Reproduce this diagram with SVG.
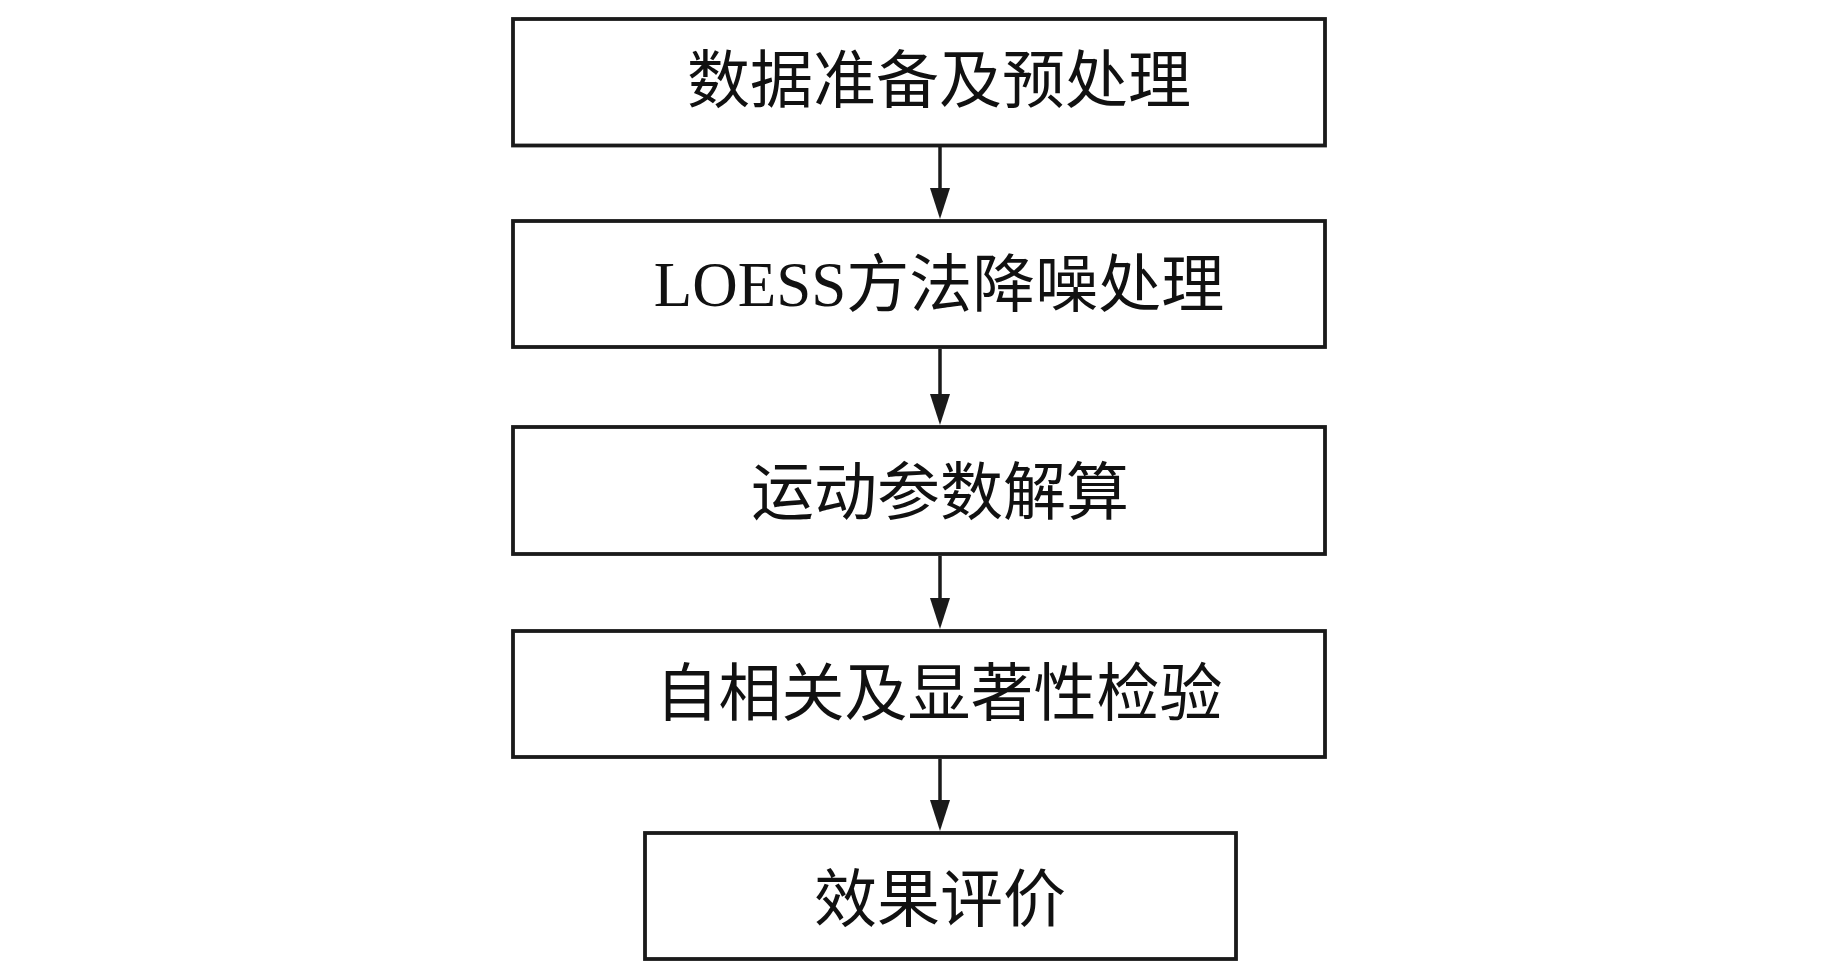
<svg xmlns="http://www.w3.org/2000/svg" width="1843" height="969" viewBox="0 0 1843 969">
<style>
.box{fill:#fff;stroke:#1a1a1a;stroke-width:3.8}
.lbl{font-family:"Liberation Serif","Noto Sans CJK SC",serif;font-size:63px;fill:#111;text-anchor:middle}
.con{stroke:#1a1a1a;stroke-width:3.5;fill:none}
.head{fill:#1a1a1a}
</style>
<rect width="1843" height="969" fill="#fff"/>
<g id="n1"><rect class="box" x="513" y="19" width="812" height="126.5"/><text class="lbl" x="939" y="102">数据准备及预处理</text></g>
<g id="n2"><rect class="box" x="513" y="221" width="812" height="126"/><text class="lbl" x="939" y="306">LOESS方法降噪处理</text></g>
<g id="n3"><rect class="box" x="513" y="427" width="812" height="127"/><text class="lbl" x="940" y="514">运动参数解算</text></g>
<g id="n4"><rect class="box" x="513" y="631" width="812" height="126"/><text class="lbl" x="939" y="715">自相关及显著性检验</text></g>
<g id="n5"><rect class="box" x="645" y="833" width="591" height="126"/><text class="lbl" x="940" y="921">效果评价</text></g>
<g id="connectors">
<line class="con" x1="940" y1="147" x2="940" y2="190"/><polygon class="head" points="930,188 950,188 940,219"/>
<line class="con" x1="940" y1="349" x2="940" y2="396"/><polygon class="head" points="930,394 950,394 940,425"/>
<line class="con" x1="940" y1="556" x2="940" y2="600"/><polygon class="head" points="930,598 950,598 940,629"/>
<line class="con" x1="940" y1="759" x2="940" y2="802"/><polygon class="head" points="930,800 950,800 940,831"/>
</g>
</svg>
